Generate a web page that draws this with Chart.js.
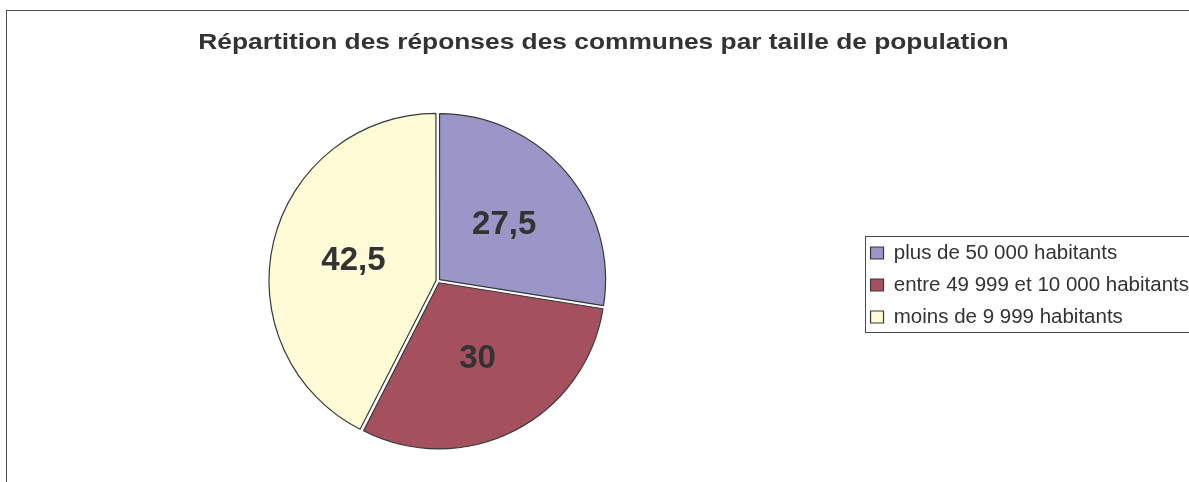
<!DOCTYPE html>
<html>
<head>
<meta charset="utf-8">
<script src="https://cdn.jsdelivr.net/npm/chart.js@4"></script>
<style>
html, body { margin: 0; padding: 0; background: #ffffff; overflow: hidden; }
#wrap { position: absolute; left: 0; top: 0; width: 1199px; height: 482px; }
</style>
</head>
<body>
<div id="wrap"><canvas id="c" width="1199" height="482"></canvas></div>
<script>
// ---- data ----
const titleText = 'Répartition des réponses des communes par taille de population';
const categories = ['plus de 50 000 habitants', 'entre 49 999 et 10 000 habitants', 'moins de 9 999 habitants'];
const values = [27.5, 30, 42.5];
const sliceColors = ['#9b96c8', '#a5505e', '#fffbd7'];

const TEXT_COLOR = '#333333';
const FONT = '"Liberation Sans", Arial, Helvetica, sans-serif';
const LEGEND_TITLE_H = 151.25;

const framePlugin = {
  id: 'frame',
  beforeDraw(chart) {
    const ctx = chart.ctx;
    // widen the title glyphs horizontally like the reference rendering
    const t = chart.titleBlock;
    if (t && !t._patched) {
      const orig = t.draw.bind(t);
      t.draw = function (a) {
        const cx = (t.left + t.right) / 2;
        ctx.save();
        ctx.translate(cx - 4.5, 0);
        ctx.scale(1.17, 1);
        ctx.translate(-cx, 0);
        orig(a);
        ctx.restore();
      };
      t._patched = true;
    }
    ctx.save();
    ctx.strokeStyle = '#4a4a4a';
    ctx.lineWidth = 1;
    ctx.strokeRect(6.5, 10.5, chart.width + 50, chart.height + 50);
    ctx.restore();
  },
  afterDraw(chart) {
    const L = chart.legend;
    if (!L || !L.columnSizes || !L.columnSizes.length) return;
    const p = L.options.labels.padding;
    const colH = L.columnSizes[0].height;
    const y0 = L.top + LEGEND_TITLE_H + p;
    const top = Math.round(y0 - 7) + 0.5;
    const bottom = Math.round(y0 + colH - p + 5) + 0.5;
    const ctx = chart.ctx;
    ctx.save();
    ctx.strokeStyle = '#4a4a4a';
    ctx.lineWidth = 1;
    ctx.strokeRect(Math.round(L.left + 6) + 0.5, top, chart.width, bottom - top);
    ctx.restore();
  }
};

const valueLabels = {
  id: 'valueLabels',
  afterDatasetsDraw(chart) {
    const ctx = chart.ctx;
    const meta = chart.getDatasetMeta(0);
    ctx.save();
    ctx.font = 'bold 33px ' + FONT;
    ctx.fillStyle = TEXT_COLOR;
    ctx.textAlign = 'center';
    ctx.textBaseline = 'middle';
    meta.data.forEach((arc, i) => {
      const pt = arc.getCenterPoint();
      const txt = String(chart.data.datasets[0].data[i]).replace('.', ',');
      ctx.fillText(txt, pt.x, pt.y);
    });
    ctx.restore();
  }
};

new Chart(document.getElementById('c'), {
  type: 'pie',
  data: {
    labels: categories,
    datasets: [{
      data: values,
      backgroundColor: sliceColors,
      borderColor: '#383838',
      borderWidth: 1.2,
      offset: 8,
      radius: 166,
      clip: false
    }]
  },
  options: {
    responsive: false,
    animation: false,
    layout: { padding: { left: 17, right: 0, top: 0, bottom: 0 } },
    plugins: {
      tooltip: { enabled: false },
      title: {
        display: true,
        text: titleText,
        color: TEXT_COLOR,
        font: { family: FONT, size: 22.5, weight: 'bold', lineHeight: 1.2 },
        padding: { top: 29.5, bottom: 23.5 }
      },
      legend: {
        position: 'right',
        align: 'start',
        fullSize: false,
        title: { display: true, text: ' ', font: { size: 4, lineHeight: 1 }, padding: { top: 2, bottom: LEGEND_TITLE_H - 6 } },
        labels: {
          color: TEXT_COLOR,
          font: { family: FONT, size: 20.5 },
          boxWidth: 13,
          boxHeight: 12,
          padding: 11.5
        }
      }
    }
  },
  plugins: [framePlugin, valueLabels]
});
</script>
</body>
</html>
